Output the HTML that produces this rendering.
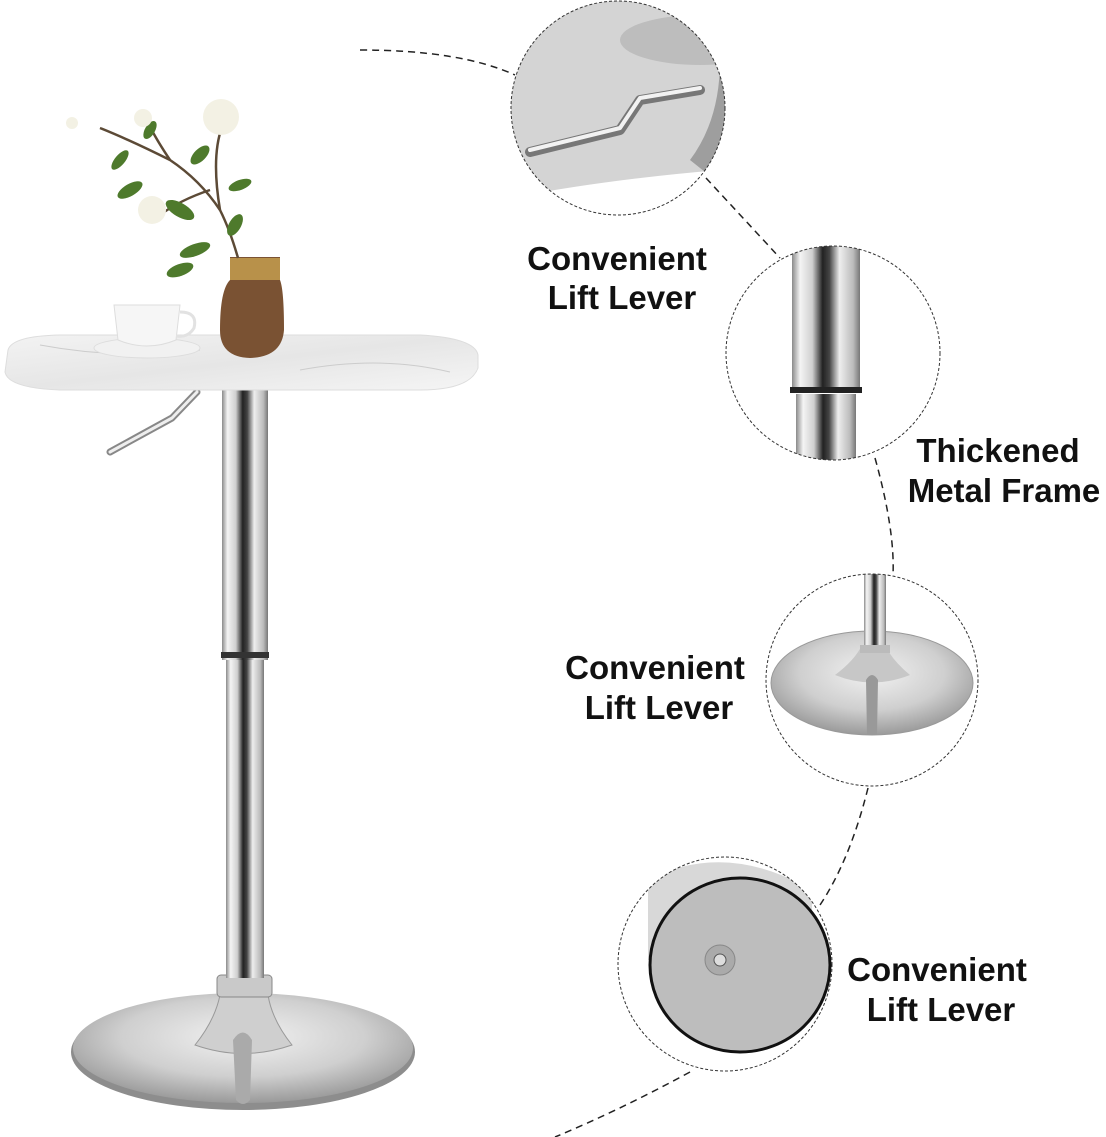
<!DOCTYPE html>
<html><head><meta charset="utf-8"><style>
body{margin:0;background:#fff;width:1106px;height:1137px;overflow:hidden}
svg{display:block}
text{font-family:"Liberation Sans",sans-serif;font-weight:bold;font-size:33px;fill:#111;text-anchor:middle}
</style></head><body>
<svg width="1106" height="1137" viewBox="0 0 1106 1137">
<defs>
<linearGradient id="chrome" x1="0" x2="1" y1="0" y2="0">
<stop offset="0" stop-color="#8a8a8a"/><stop offset="0.12" stop-color="#f4f4f4"/><stop offset="0.3" stop-color="#cfcfcf"/><stop offset="0.45" stop-color="#222"/><stop offset="0.55" stop-color="#444"/><stop offset="0.7" stop-color="#eee"/><stop offset="0.9" stop-color="#bbb"/><stop offset="1" stop-color="#777"/>
</linearGradient>
<radialGradient id="disk" cx="0.5" cy="0.4" r="0.6">
<stop offset="0" stop-color="#f2f2f2"/><stop offset="0.6" stop-color="#cfcfcf"/><stop offset="1" stop-color="#9a9a9a"/>
</radialGradient>
<linearGradient id="marble" x1="0" x2="1" y1="0" y2="1">
<stop offset="0" stop-color="#f3f3f3"/><stop offset="0.5" stop-color="#e6e6e6"/><stop offset="1" stop-color="#f5f5f5"/>
</linearGradient>
<clipPath id="c1"><circle cx="618" cy="108" r="107"/></clipPath>
<clipPath id="c2"><circle cx="833" cy="353" r="107"/></clipPath>
<clipPath id="c3"><circle cx="872" cy="680" r="106"/></clipPath>
<clipPath id="c4"><circle cx="725" cy="964" r="107"/></clipPath>
</defs>

<g fill="none" stroke="#222" stroke-width="1.5" stroke-dasharray="7,5">
<path d="M360 50 Q460 50 515 75"/>
<path d="M706 178 L780 258"/>
<path d="M875 458 Q895 530 893 575"/>
<path d="M868 788 Q850 860 820 905"/>
<path d="M690 1072 Q620 1110 555 1137"/>
</g>

<ellipse cx="243" cy="1052" rx="172" ry="58" fill="#8d8d8d"/>
<ellipse cx="243" cy="1048" rx="170" ry="55" fill="url(#disk)"/>
<path d="M195 1045 Q215 1020 220 995 L268 995 Q272 1020 292 1045 Q243 1062 195 1045Z" fill="#cfcfcf" stroke="#999"/>
<path d="M233 1040 Q243 1025 252 1040 L250 1100 Q243 1108 236 1100Z" fill="#aaa"/>
<rect x="217" y="975" width="55" height="22" rx="4" fill="#c9c9c9" stroke="#888"/>
<rect x="226" y="660" width="38" height="318" fill="url(#chrome)"/>
<rect x="222" y="390" width="46" height="270" fill="url(#chrome)"/>
<rect x="221" y="652" width="48" height="6" fill="#333"/>
<path d="M110 452 L172 418 L197 392" fill="none" stroke="#888" stroke-width="7" stroke-linecap="round" stroke-linejoin="round"/>
<path d="M110 452 L172 418 L197 392" fill="none" stroke="#eee" stroke-width="3" stroke-linecap="round" stroke-linejoin="round"/>
<path d="M8 350 Q12 336 60 335 L420 335 Q475 338 478 355 L478 368 Q470 390 420 390 L60 390 Q8 388 5 372Z" fill="url(#marble)" stroke="#ddd"/>
<path d="M40 345 Q120 360 200 350 M300 370 Q380 355 450 372" stroke="#ccc" fill="none"/>
<ellipse cx="147" cy="348" rx="53" ry="10" fill="#f1f1f1" stroke="#ddd"/>
<path d="M114 305 L180 305 L176 340 Q147 352 118 340Z" fill="#f6f6f6" stroke="#ddd"/>
<path d="M180 312 Q198 312 194 328 Q188 338 176 336" fill="none" stroke="#e2e2e2" stroke-width="3"/>
<path d="M230 257 L280 257 L280 280 Q284 290 284 330 Q282 357 250 358 Q220 357 220 330 Q220 290 230 280Z" fill="#7a5233"/>
<rect x="230" y="258" width="50" height="22" fill="#b8914a"/>
<g stroke="#5c4a36" stroke-width="2.5" fill="none">
<path d="M238 258 Q230 230 220 210 Q200 180 170 160 Q130 140 100 128"/>
<path d="M220 210 Q210 150 225 120"/>
<path d="M170 160 Q150 130 145 115"/>
<path d="M210 190 Q180 200 160 215"/>
</g>
<g fill="#4e7a2c">
<ellipse cx="130" cy="190" rx="14" ry="6" transform="rotate(-30 130 190)"/>
<ellipse cx="180" cy="210" rx="16" ry="7" transform="rotate(30 180 210)"/>
<ellipse cx="235" cy="225" rx="12" ry="6" transform="rotate(-60 235 225)"/>
<ellipse cx="195" cy="250" rx="16" ry="6" transform="rotate(-20 195 250)"/>
<ellipse cx="200" cy="155" rx="12" ry="6" transform="rotate(-45 200 155)"/>
<ellipse cx="150" cy="130" rx="10" ry="5" transform="rotate(-60 150 130)"/>
<ellipse cx="120" cy="160" rx="12" ry="5" transform="rotate(-50 120 160)"/>
<ellipse cx="240" cy="185" rx="12" ry="5" transform="rotate(-20 240 185)"/>
<ellipse cx="180" cy="270" rx="14" ry="6" transform="rotate(-20 180 270)"/>
</g>
<circle cx="221" cy="117" r="18" fill="#f3f1e4"/>
<circle cx="152" cy="210" r="14" fill="#f3f1e4"/>
<circle cx="143" cy="118" r="9" fill="#f3f1e4"/>
<circle cx="72" cy="123" r="6" fill="#f3f1e4"/>

<g clip-path="url(#c1)">
<rect x="500" y="0" width="240" height="230" fill="#d4d4d4"/>
<ellipse cx="700" cy="40" rx="80" ry="25" fill="#bdbdbd"/>
<path d="M690 160 Q720 120 720 60 L740 60 L740 200Z" fill="#9e9e9e"/>
<path d="M530 152 L620 130 L640 100 L700 90" fill="none" stroke="#777" stroke-width="10" stroke-linecap="round" stroke-linejoin="round"/>
<path d="M530 150 L620 128 L640 98 L700 88" fill="none" stroke="#f2f2f2" stroke-width="4" stroke-linecap="round" stroke-linejoin="round"/>
<path d="M500 200 Q600 180 720 170 L720 240 L500 240Z" fill="#fff"/>
</g>
<circle cx="618" cy="108" r="107" fill="none" stroke="#333" stroke-width="1" stroke-dasharray="3,2"/>

<g clip-path="url(#c2)">
<rect x="792" y="240" width="68" height="150" fill="url(#chrome)"/>
<rect x="796" y="394" width="60" height="80" fill="url(#chrome)"/>
<rect x="790" y="387" width="72" height="6" fill="#222"/>
</g>
<circle cx="833" cy="353" r="107" fill="none" stroke="#333" stroke-width="1" stroke-dasharray="3,2"/>

<g clip-path="url(#c3)">
<ellipse cx="872" cy="683" rx="101" ry="52" fill="url(#disk)" stroke="#999"/>
<path d="M835 675 Q855 660 862 645 L885 645 Q892 660 910 675 Q872 690 835 675Z" fill="#c7c7c7"/>
<rect x="864" y="560" width="22" height="90" fill="url(#chrome)"/>
<rect x="860" y="645" width="30" height="8" fill="#bbb"/>
<path d="M866 680 Q872 670 878 680 L877 735 L867 735Z" fill="#999"/>
</g>
<circle cx="872" cy="680" r="106" fill="none" stroke="#333" stroke-width="1" stroke-dasharray="3,2"/>

<g clip-path="url(#c4)">
<path d="M648 880 Q725 840 812 890 L812 960 L648 960Z" fill="#d8d8d8"/>
<ellipse cx="740" cy="965" rx="90" ry="87" fill="#bdbdbd" stroke="#111" stroke-width="3"/>
<circle cx="720" cy="960" r="15" fill="#aaa" stroke="#888"/>
<circle cx="720" cy="960" r="6" fill="#ddd" stroke="#555"/>
</g>
<circle cx="725" cy="964" r="107" fill="none" stroke="#333" stroke-width="1" stroke-dasharray="3,2"/>

<text x="617" y="270">Convenient</text>
<text x="622" y="309">Lift Lever</text>
<text x="998" y="462">Thickened</text>
<text x="1004" y="502">Metal Frame</text>
<text x="655" y="679">Convenient</text>
<text x="659" y="719">Lift Lever</text>
<text x="937" y="981">Convenient</text>
<text x="941" y="1021">Lift Lever</text>
</svg>
</body></html>
